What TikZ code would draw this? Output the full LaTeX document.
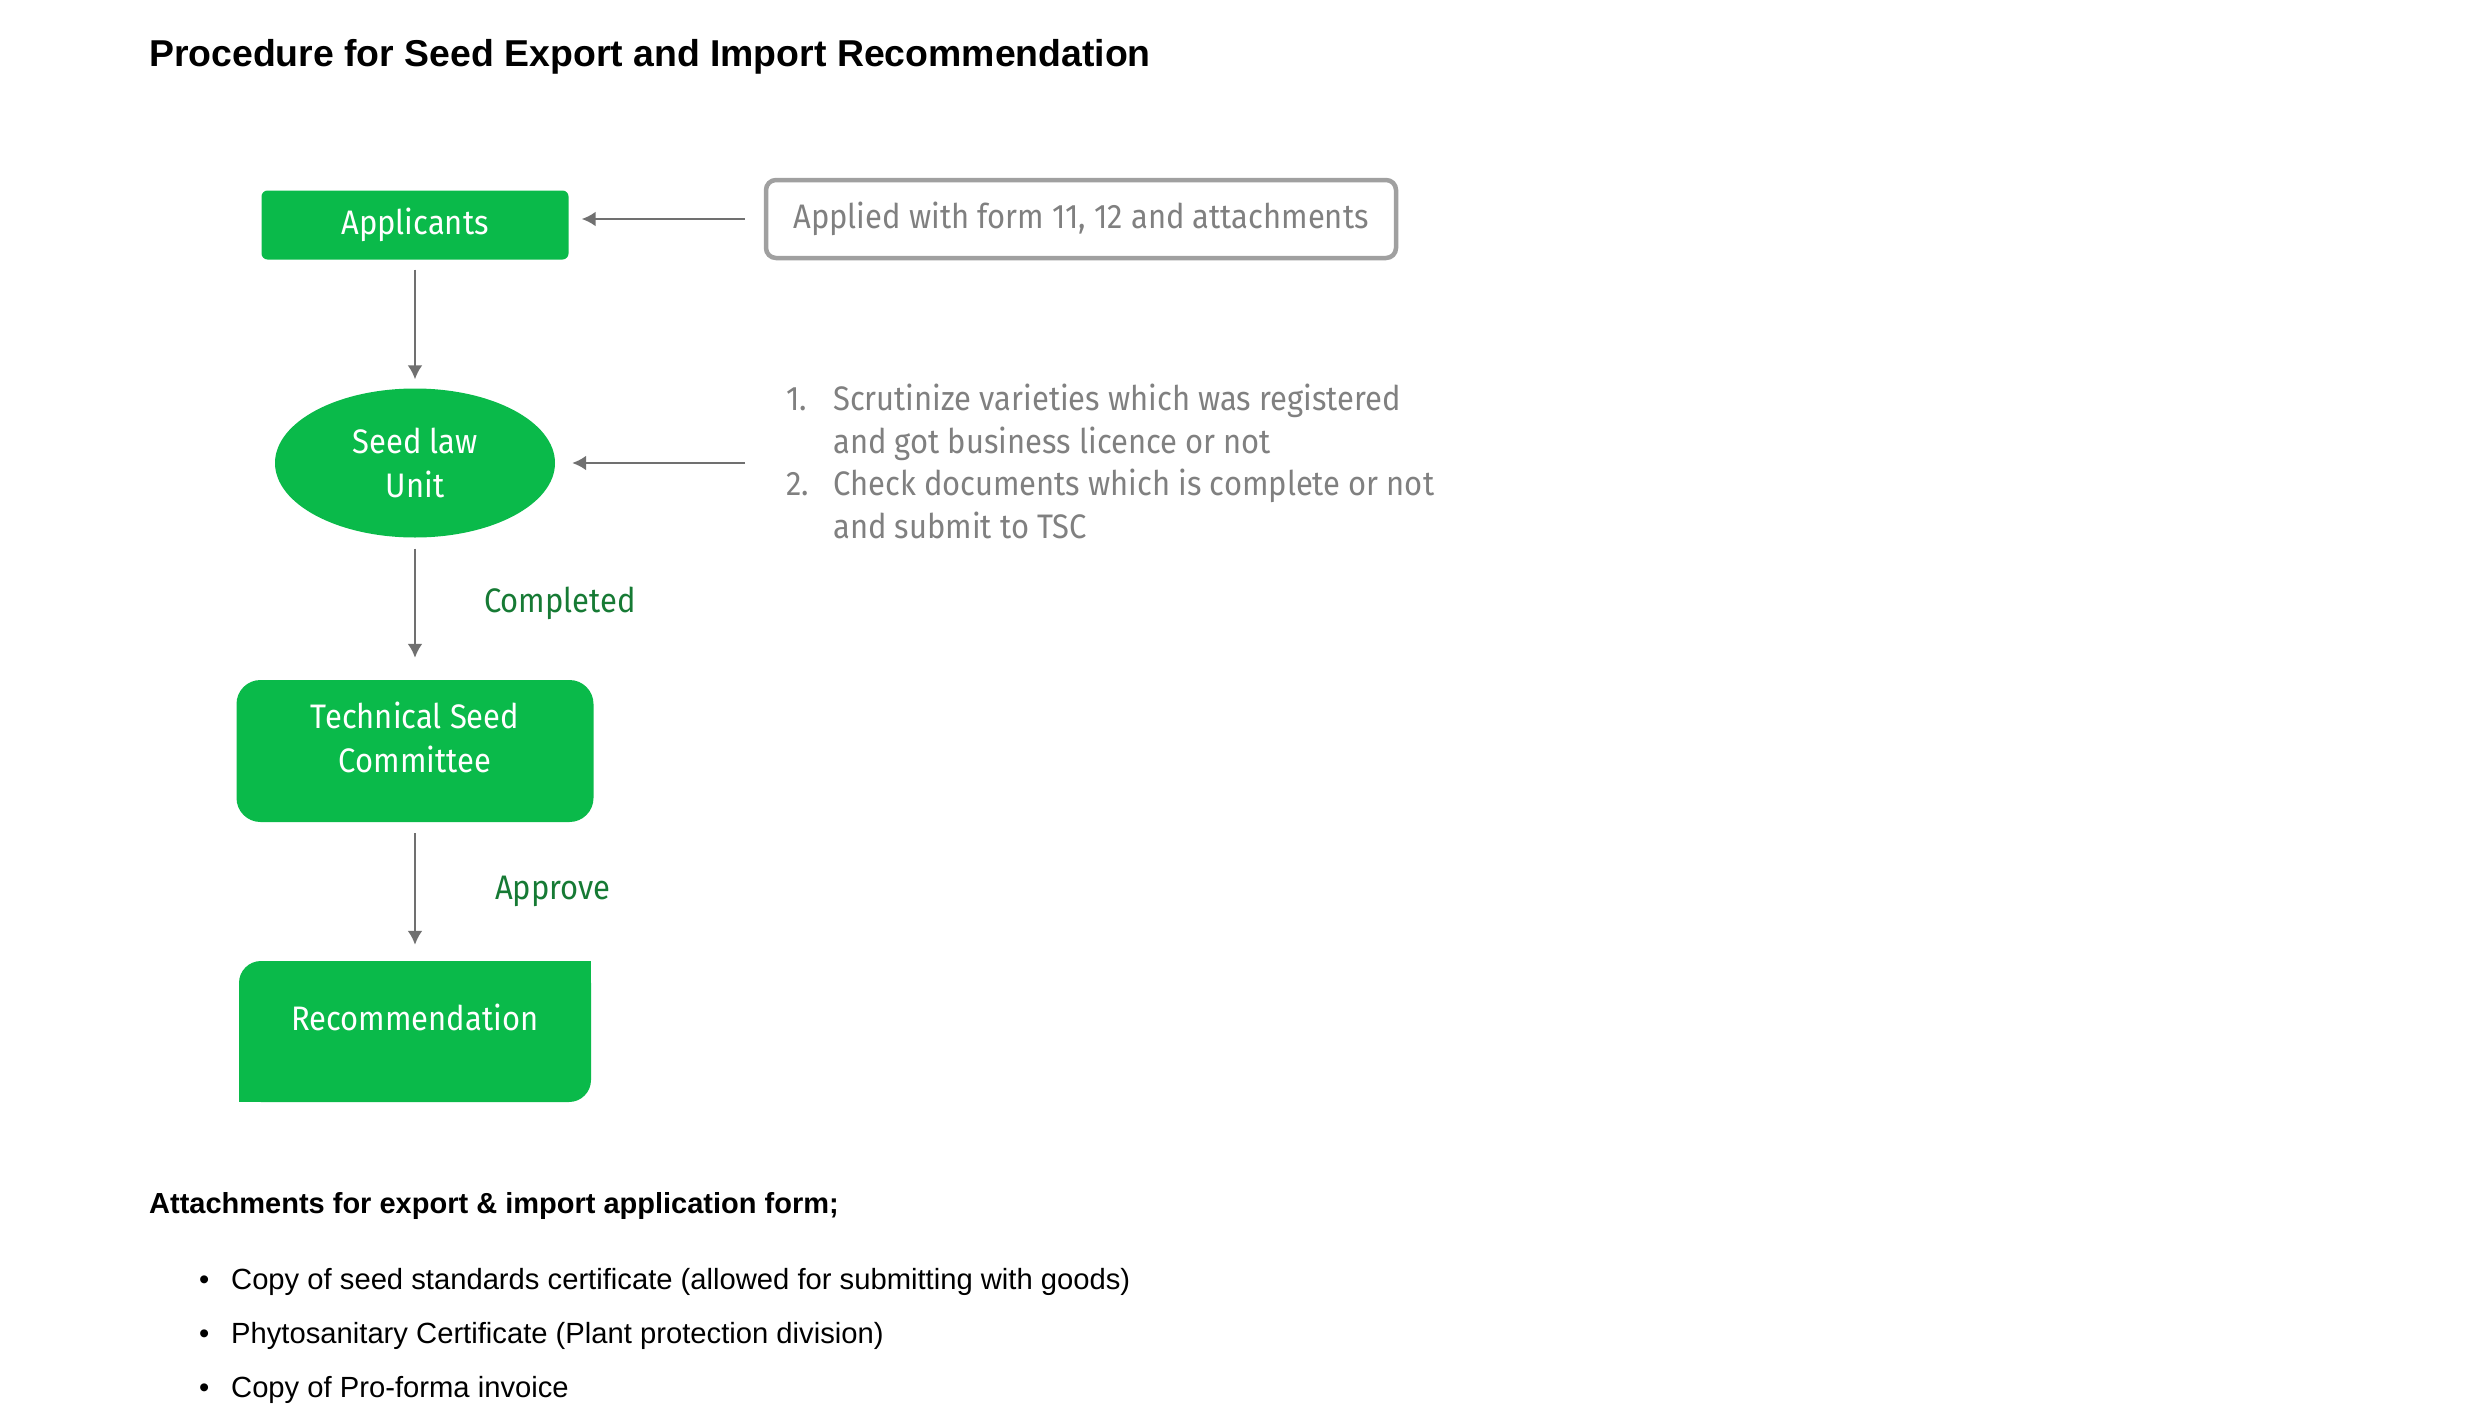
\documentclass[tikz,border=0pt]{standalone}
\usepackage{fontspec}
\setmainfont{Liberation Sans}
\newfontfamily\flowfont[FakeStretch=0.91]{Fira Sans}
\usetikzlibrary{arrows.meta,shapes.geometric}

\definecolor{seedgreen}{RGB}{10,186,74}
\definecolor{labelgreen}{RGB}{22,122,52}
\definecolor{arrowgray}{RGB}{112,112,112}
\definecolor{notegray}{RGB}{128,128,128}
\definecolor{framegray}{RGB}{160,160,160}

\tikzset{
  boxtext/.style={text=white, font=\flowfont\fontsize{34}{44}\selectfont, align=center, inner sep=0pt},
  greenbox/.style={boxtext, fill=seedgreen},
  flowarrow/.style={draw=arrowgray, line width=2.5pt, -{Latex[length=14pt,width=15pt]}},
  note/.style={text=notegray, font=\flowfont\fontsize{34}{42.5}\selectfont, inner sep=0pt},
  steplabel/.style={text=labelgreen, font=\flowfont\fontsize{34}{40}\selectfont, anchor=west, inner sep=0pt},
  plaintext/.style={anchor=west, inner sep=0pt, font=\fontsize{29.2}{34}\selectfont},
}

\begin{document}
\begin{tikzpicture}[x=1pt,y=-1pt]
  \useasboundingbox (0,0) rectangle (2479,1410);

  % title
  \node[plaintext, font=\bfseries\fontsize{37.4}{42}\selectfont] (title) at (149,57)
    {Procedure for Seed Export and Import Recommendation};

  % flow
  \node[greenbox, rounded corners=6pt, minimum width=307pt, minimum height=69pt] (app) at (415,225) {Applicants};
  \node[note, draw=framegray, line width=4.5pt, rounded corners=10pt,
        minimum width=630pt, minimum height=78pt] (form) at (1081,219)
    {Applied with form 11, 12 and attachments};
  \node[greenbox, ellipse, minimum width=280pt, minimum height=149pt] (slu) at (415,463) {Seed law\\Unit};
  \node[note, anchor=west] (checks) at (786,466) {%
    \begin{tabular}{@{}p{47pt}@{}l@{}}
      1. & Scrutinize varieties which was registered\\
         & and got business licence or not\\
      2. & Check documents which is complete or not\\
         & and submit to TSC
    \end{tabular}};
  \node[greenbox, rounded corners=24pt, minimum width=357pt, minimum height=142pt,
        label={[boxtext, name=tsctext, yshift=14pt]center:Technical Seed\\Committee}] (tsc) at (415,751) {};
  \node[greenbox, rounded corners=22pt, minimum width=352pt, minimum height=141pt,
        label={[boxtext, name=rectext, yshift=14pt]center:Recommendation}] (rec) at (415,1031.5) {};
  \fill[seedgreen] (rec.north east) rectangle ++(-30,30);
  \fill[seedgreen] (rec.south west) rectangle ++(30,-30);

  \node[steplabel] (completed) at (484,603) {Completed};
  \node[steplabel] (approve) at (495,891) {Approve};

  \draw[flowarrow, shorten <=19pt, shorten >=13pt] (form.west) -- (form.west -| app.east);
  \draw[flowarrow, shorten <=41pt, shorten >=17pt] (slu.east -| checks.west) -- (slu.east);
  \draw[flowarrow, shorten <=10pt, shorten >=9pt] (app) -- (slu);
  \draw[flowarrow, shorten <=11pt, shorten >=22pt] (slu) -- (tsc);
  \draw[flowarrow, shorten <=11pt, shorten >=16pt] (tsc) -- (rec);

  % attachments
  \node[plaintext, font=\bfseries\fontsize{29}{34}\selectfont] (attach) at (149,1206)
    {Attachments for export \& import application form;};
  \node[plaintext] (item1) at (199,1282) {\makebox[32pt][l]{\textbullet}Copy of seed standards certificate (allowed for submitting with goods)};
  \node[plaintext] (item2) at (199,1336) {\makebox[32pt][l]{\textbullet}Phytosanitary Certificate (Plant protection division)};
  \node[plaintext] (item3) at (199,1390) {\makebox[32pt][l]{\textbullet}Copy of Pro-forma invoice};
\end{tikzpicture}
\end{document}
